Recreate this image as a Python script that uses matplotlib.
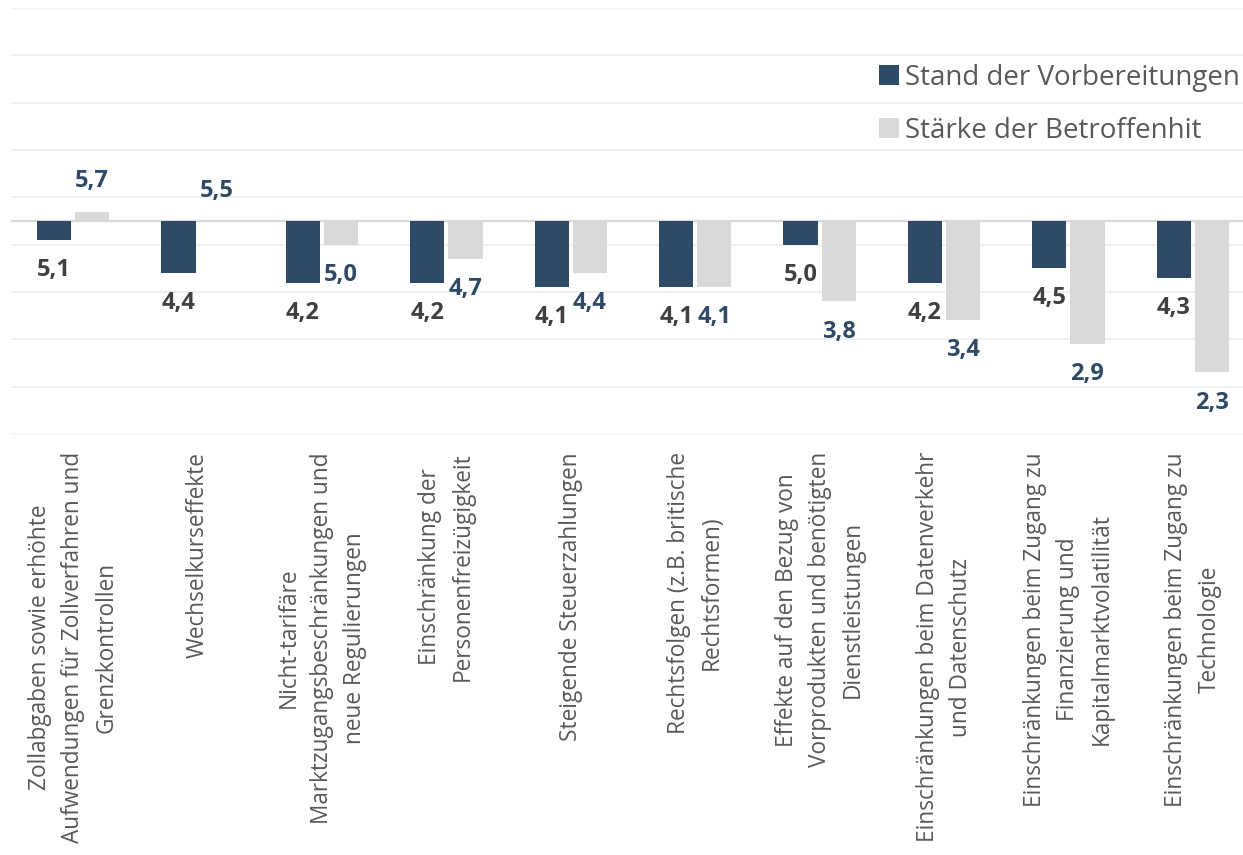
import numpy as np
import matplotlib
matplotlib.use("Agg")
import matplotlib.pyplot as plt

plt.rcParams['font.family'] = ['Open Sans', 'DejaVu Sans']

# --- Data ---
categories = [
    "Zollabgaben sowie erhöhte\nAufwendungen für Zollverfahren und\nGrenzkontrollen",
    "Wechselkurseffekte",
    "Nicht-tarifäre\nMarktzugangsbeschränkungen und\nneue Regulierungen",
    "Einschränkung der\nPersonenfreizügigkeit",
    "Steigende Steuerzahlungen",
    "Rechtsfolgen (z.B. britische\nRechtsformen)",
    "Effekte auf den Bezug von\nVorprodukten und benötigten\nDienstleistungen",
    "Einschränkungen beim Datenverkehr\nund Datenschutz",
    "Einschränkungen beim Zugang zu\nFinanzierung und\nKapitalmarktvolatilität",
    "Einschränkungen beim Zugang zu\nTechnologie",
]
stand = [5.1, 4.4, 4.2, 4.2, 4.1, 4.1, 5.0, 4.2, 4.5, 4.3]
staerke = [5.7, 5.5, 5.0, 4.7, 4.4, 4.1, 3.8, 3.4, 2.9, 2.3]
series_names = ["Stand der Vorbereitungen", "Stärke der Betroffenhit"]

BASE = 5.5          # value where the horizontal axis crosses
DARK = "#2E4A66"
LIGHT = "#D9D9D9"
W = 0.275
OFF = 0.153

fig = plt.figure(figsize=(12.43, 8.55), dpi=100)
ax = fig.add_axes([11 / 1243, 1 - 434 / 855, 1244 / 1243, 426 / 855])

x = np.arange(len(categories))
b1 = ax.bar(x - OFF, np.array(stand) - BASE, W, bottom=BASE, color=DARK,
            label=series_names[0], zorder=3)
b2 = ax.bar(x + OFF, np.array(staerke) - BASE, W, bottom=BASE, color=LIGHT,
            label=series_names[1], zorder=3)

ax.set_xlim(-0.5, len(categories) - 0.5)
ax.set_ylim(1, 10)
ax.set_yticks(np.arange(1, 11))
ax.yaxis.grid(True, color="#EEEEEE", linewidth=1.2, zorder=0)
ax.tick_params(axis="y", left=False, labelleft=False)
ax.axhline(BASE, color="#D9D9D9", linewidth=1.6, zorder=2)
for s in ax.spines.values():
    s.set_visible(False)

ax.set_xticks(x)
ax.set_xticklabels(categories, rotation=90, ha="center", va="top",
                   multialignment="center", fontsize=16.3, color="#595959",
                   linespacing=1.5)
ax.tick_params(axis="x", length=0, pad=13)

# data labels
for xs, vals, col in [(x - OFF, stand, "#404040"), (x + OFF, staerke, DARK)]:
    for xi, v in zip(xs, vals):
        up = v >= BASE
        ax.annotate(f"{v:.1f}".replace(".", ","), (xi, v),
                    xytext=(0, 13 if up else -13), textcoords="offset points",
                    ha="center", va="bottom" if up else "top",
                    fontsize=17, fontweight="bold", color=col)

fig.legend(handles=[b1, b2], loc="upper left",
           bbox_to_anchor=(879 / 1243, 1 - 64 / 855), frameon=False,
           fontsize=20, handlelength=0.72, handleheight=0.72,
           handletextpad=0.22, labelspacing=0.9, borderpad=0,
           borderaxespad=0, labelcolor="#595959")

fig.savefig("out.png", dpi=100)
